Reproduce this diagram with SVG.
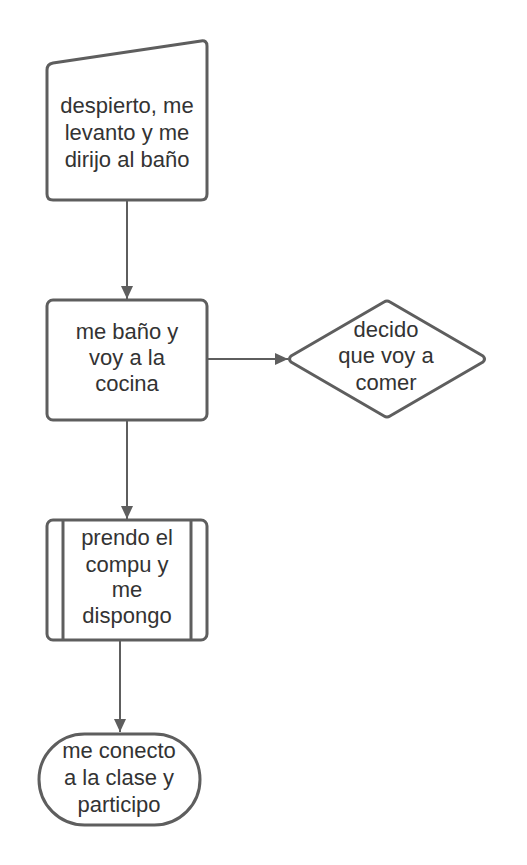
<svg xmlns="http://www.w3.org/2000/svg" width="527" height="865" viewBox="0 0 527 865">
<style>
.s{fill:#ffffff;stroke:#5e5e5e;stroke-width:3;stroke-linejoin:round}
.c{fill:none;stroke:#5e5e5e;stroke-width:2}
.t{font-family:"Liberation Sans",Arial,sans-serif;font-size:22px;fill:#333333;text-anchor:middle}
</style>
<defs>
<marker id="ah" markerWidth="14" markerHeight="12" refX="13" refY="6" orient="auto" markerUnits="userSpaceOnUse">
<path d="M0,0 L13,6 L0,12 Z" fill="#5e5e5e"/>
</marker>
</defs>
<rect width="527" height="865" fill="#ffffff"/>
<g id="connectors">
<line class="c" x1="127" y1="201" x2="127" y2="299" marker-end="url(#ah)"/>
<line class="c" x1="208" y1="359" x2="288" y2="359" marker-end="url(#ah)"/>
<line class="c" x1="127" y1="421" x2="127" y2="519" marker-end="url(#ah)"/>
<line class="c" x1="120" y1="641" x2="120" y2="732" marker-end="url(#ah)"/>
</g>
<g id="n1">
<path class="s" d="M47,70 Q47,64 53,63 L201,41 Q207,40 207,46 L207,194 Q207,200 201,200 L53,200 Q47,200 47,194 Z"/>
<text class="t" x="127" y="113">despierto, me</text>
<text class="t" x="127" y="140">levanto y me</text>
<text class="t" x="127" y="167">dirijo al baño</text>
</g>
<g id="n2">
<rect class="s" x="47" y="300" width="160" height="120" rx="6"/>
<text class="t" x="127" y="339">me baño y</text>
<text class="t" x="127" y="365">voy a la</text>
<text class="t" x="127" y="391">cocina</text>
</g>
<g id="n3">
<path class="s" d="M384,302 Q387,300 390,302 L483,356 Q486,359 483,362 L390,416 Q387,418 384,416 L291,362 Q288,359 291,356 Z"/>
<text class="t" x="386" y="337">decido</text>
<text class="t" x="386" y="363">que voy a</text>
<text class="t" x="386" y="390">comer</text>
</g>
<g id="n4">
<rect class="s" x="47" y="520" width="160" height="120" rx="6"/>
<line class="s" x1="63" y1="520" x2="63" y2="640"/>
<line class="s" x1="191" y1="520" x2="191" y2="640"/>
<text class="t" x="127" y="545">prendo el</text>
<text class="t" x="127" y="572">compu y</text>
<text class="t" x="127" y="597">me</text>
<text class="t" x="127" y="623">dispongo</text>
</g>
<g id="n5">
<rect class="s" x="39" y="734" width="161" height="91" rx="45.5"/>
<text class="t" x="119" y="758">me conecto</text>
<text class="t" x="119" y="785">a la clase y</text>
<text class="t" x="119" y="812">participo</text>
</g>
</svg>
